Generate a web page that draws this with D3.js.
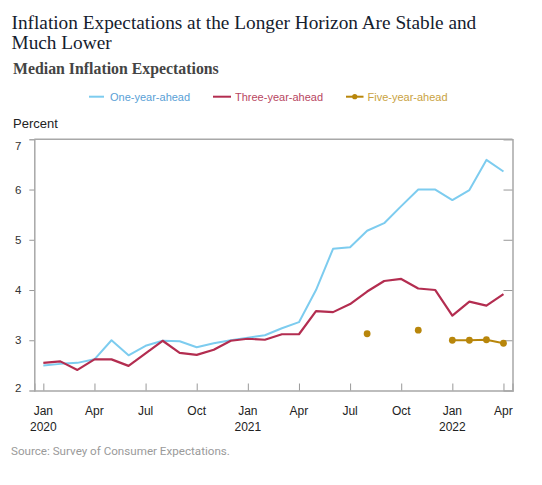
<!DOCTYPE html>
<html>
<head>
<meta charset="utf-8">
<script src="https://cdn.jsdelivr.net/npm/d3@7"></script>
<style>
  html, body { margin: 0; padding: 0; background: #fff; }
  svg { display: block; }
</style>
</head>
<body>
<svg id="chart" width="542" height="485"></svg>
<script>
// ---- Data ----
const months = ["2020-01","2020-02","2020-03","2020-04","2020-05","2020-06","2020-07","2020-08","2020-09","2020-10","2020-11","2020-12",
                "2021-01","2021-02","2021-03","2021-04","2021-05","2021-06","2021-07","2021-08","2021-09","2021-10","2021-11","2021-12",
                "2022-01","2022-02","2022-03","2022-04"];
const oneYear   = [2.50,2.53,2.55,2.62,3.00,2.70,2.89,2.99,2.98,2.86,2.94,3.00,3.05,3.10,3.24,3.36,4.00,4.82,4.85,5.18,5.33,5.67,6.00,6.00,5.79,5.99,6.59,6.36];
const threeYear = [2.55,2.58,2.41,2.62,2.62,2.49,2.74,2.99,2.75,2.71,2.81,2.99,3.03,3.01,3.12,3.12,3.58,3.56,3.72,3.97,4.18,4.22,4.03,4.00,3.49,3.77,3.69,3.92];
const fiveYear  = [null,null,null,null,null,null,null,null,null,null,null,null,
                   null,null,null,null,null,null,null,3.13,null,null,3.20,null,3.00,3.00,3.01,2.94];
const yTicks = [2,3,4,5,6,7];
const xTickIdx = [0,3,6,9,12,15,18,21,24,27];
const xTickLabels = [["Jan","2020"],["Apr"],["Jul"],["Oct"],["Jan","2021"],["Apr"],["Jul"],["Oct"],["Jan","2022"],["Apr"]];
const seriesNames = ["One-year-ahead","Three-year-ahead","Five-year-ahead"];

// ---- Style ----
const cBlue = "#7dccef", cRed = "#b32d50", cGold = "#b8860b";
const cBlueTxt = "#5a9fd6", cRedTxt = "#b8465f", cGoldTxt = "#c9a23f";

const svg = d3.select("#chart");

function fitText(sel, target) {
  const w = sel.node().getComputedTextLength();
  const fs = parseFloat(sel.attr("font-size"));
  sel.attr("font-size", (fs * target / w).toFixed(2));
}
const t1 = svg.append("text").attr("x", 11.5).attr("y", 28.5)
  .attr("font-family", "Liberation Serif, Times New Roman, serif").attr("font-size", 19)
  .attr("fill", "#14202e").text("Inflation Expectations at the Longer Horizon Are Stable and");
fitText(t1, 465);
const fs1 = t1.attr("font-size");
svg.append("text").attr("x", 11.5).attr("y", 48.5)
  .attr("font-family", "Liberation Serif, Times New Roman, serif").attr("font-size", fs1)
  .attr("fill", "#14202e").text("Much Lower");
const st = svg.append("text").attr("x", 13).attr("y", 73.5)
  .attr("font-family", "Liberation Serif, Times New Roman, serif").attr("font-size", 16)
  .attr("font-weight", "bold").attr("fill", "#444").text("Median Inflation Expectations");
fitText(st, 206);

// Legend
const legY = 96.7;
const leg = [
  {x1: 89, x2: 104, tx: 110, color: cBlue, tcolor: cBlueTxt, dot: false},
  {x1: 213, x2: 231, tx: 235, color: cRed, tcolor: cRedTxt, dot: false},
  {x1: 346, x2: 363.5, tx: 367.5, color: cGold, tcolor: cGoldTxt, dot: true}
];
leg.forEach((d, i) => {
  svg.append("line").attr("x1", d.x1).attr("x2", d.x2).attr("y1", legY).attr("y2", legY)
    .attr("stroke", d.color).attr("stroke-width", 2);
  if (d.dot) svg.append("circle").attr("cx", (d.x1 + d.x2) / 2).attr("cy", legY).attr("r", 2.6).attr("fill", d.color);
  svg.append("text").attr("x", d.tx).attr("y", legY + 4)
    .attr("font-family", "Liberation Sans, Arial, sans-serif").attr("font-size", 11)
    .attr("fill", d.tcolor).text(seriesNames[i]);
});

svg.append("text").attr("x", 13).attr("y", 127.5)
  .attr("font-family", "Liberation Sans, Arial, sans-serif").attr("font-size", 13)
  .attr("fill", "#222").text("Percent");

// Scales
const pLeft = 34.3, pRight = 512.5, pTop = 139.3, pBottom = 390.5;
const x = d3.scaleLinear().domain([-0.53, 27.53]).range([pLeft, pRight]);
const y = d3.scaleLinear().domain([2, 7]).range([pBottom, pTop]);

const axisColor = "#a8a8a8";

const gL = svg.append("g").attr("transform", `translate(${pLeft},0)`)
  .call(d3.axisLeft(y).tickValues(yTicks).tickSize(5).tickFormat(d3.format("d")));
const gR = svg.append("g").attr("transform", `translate(${pRight},0)`)
  .call(d3.axisRight(y).tickValues([3,4,5,6]).tickSize(-9).tickFormat(""));
const gB = svg.append("g").attr("transform", `translate(0,${pBottom})`)
  .call(d3.axisBottom(x).tickValues(xTickIdx).tickSize(-7).tickFormat(""));
svg.append("line").attr("x1", pLeft).attr("x2", pRight).attr("y1", pTop).attr("y2", pTop)
  .attr("stroke", axisColor).attr("stroke-width", 1.5);

[gL, gR, gB].forEach(g => {
  g.select(".domain").attr("stroke", axisColor).attr("stroke-width", 1.5);
  g.selectAll(".tick line").attr("stroke", "#999").attr("stroke-width", 1);
});
gL.selectAll(".tick").filter(d => d === 2 || d === 7).select("line").remove();
gL.selectAll(".tick text")
  .attr("font-family", "Liberation Sans, Arial, sans-serif").attr("font-size", 11.5)
  .attr("fill", "#333").attr("x", -13)
  .attr("dy", d => d === 7 ? "0.85em" : d === 2 ? "0.05em" : "0.32em");

xTickIdx.forEach((v, i) => {
  xTickLabels[i].forEach((s, j) => {
    svg.append("text").attr("x", x(v)).attr("y", 415 + j * 16)
      .attr("text-anchor", "middle")
      .attr("font-family", "Liberation Sans, Arial, sans-serif").attr("font-size", 12)
      .attr("fill", "#222").text(s);
  });
});

const line = d3.line().defined(d => d != null).x((d, i) => x(i)).y(d => y(d));
svg.append("path").datum(oneYear).attr("d", line).attr("fill", "none")
  .attr("stroke", cBlue).attr("stroke-width", 2).attr("stroke-linejoin", "round");
svg.append("path").datum(threeYear).attr("d", line).attr("fill", "none")
  .attr("stroke", cRed).attr("stroke-width", 2.2).attr("stroke-linejoin", "round");
svg.append("path").datum(fiveYear).attr("d", line).attr("fill", "none")
  .attr("stroke", cGold).attr("stroke-width", 2);
svg.selectAll("circle.fy").data(fiveYear.map((v, i) => ({v, i})).filter(d => d.v != null))
  .enter().append("circle").attr("class", "fy")
  .attr("cx", d => x(d.i)).attr("cy", d => y(d.v)).attr("r", 3.4).attr("fill", cGold);

const src = svg.append("text").attr("x", 11).attr("y", 455)
  .attr("font-family", "Roboto, sans-serif").attr("font-size", 12).attr("fill", "#9a9a9a")
  .text("Source: Survey of Consumer Expectations.");
fitText(src, 219);
</script>
</body>
</html>
